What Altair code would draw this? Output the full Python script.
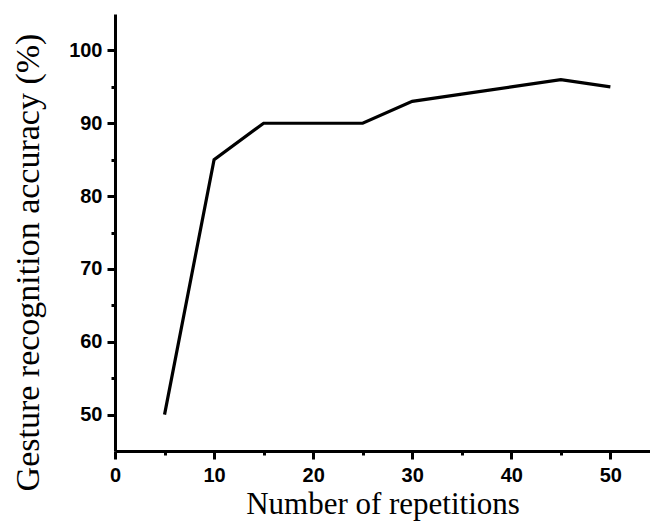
import altair as alt
import pandas as pd

repetitions = [5, 10, 15, 20, 25, 30, 35, 40, 45, 50]
accuracy = [50, 85, 90, 90, 90, 93, 94, 95, 96, 95]

x_ticks = [0, 5, 10, 15, 20, 25, 30, 35, 40, 45, 50]
y_ticks = [50, 55, 60, 65, 70, 75, 80, 85, 90, 95, 100]

df = pd.DataFrame({"rep": repetitions, "acc": accuracy})

tick_size = {"condition": {"test": "datum.value % 10 === 0", "value": 8}, "value": 4}

chart = alt.Chart(df).mark_line(color="black", strokeWidth=3.2, strokeCap="butt").encode(
    x=alt.X("rep:Q",
            scale=alt.Scale(domain=[0, 54], nice=False, zero=False),
            axis=alt.Axis(title="Number of repetitions", values=x_ticks,
                          labelExpr="datum.value % 10 === 0 ? datum.label : ''",
                          tickSize=tick_size, labelPadding=6,
                          titleY=62, titleBaseline="alphabetic")),
    y=alt.Y("acc:Q",
            scale=alt.Scale(domain=[45, 105], nice=False, zero=False),
            axis=alt.Axis(title="Gesture recognition accuracy (%)", values=y_ticks,
                          labelExpr="datum.value % 10 === 0 ? datum.label : ''",
                          tickSize=tick_size, labelPadding=5,
                          titleX=-77, titleY=248, titleBaseline="alphabetic",
                          titleAlign="center")),
).properties(
    width=535, height=437,
    autosize=alt.AutoSizeParams(type="none"),
    padding={"left": 107, "top": 6, "right": 0, "bottom": 79},
).configure_view(stroke=None).configure_axis(
    domainColor="black", domainWidth=3, tickColor="black", tickWidth=3,
    grid=False, labelFont="Liberation Sans", labelFontWeight="bold", labelFontSize=20,
    labelColor="black", labelOverlap=False, labelFlush=False,
    titleFont="Liberation Serif", titleFontWeight="normal", titleColor="black",
).configure_axisX(titleFontSize=31).configure_axisY(titleFontSize=34)

chart.save("out.html", embed_options={"renderer": "svg", "actions": False})
